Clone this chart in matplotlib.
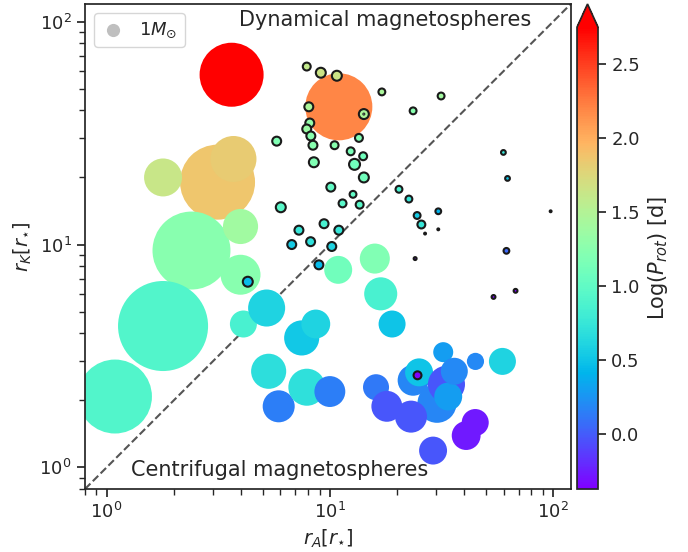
import numpy as np
import matplotlib
matplotlib.use('Agg')
import matplotlib.pyplot as plt
import seaborn as sns

sns.set_theme(style='ticks')
plt.rcParams['font.family'] = ['DejaVu Sans']

# massive stars (filled, no edge)
ra_big = [3.63, 10.97, 3.14, 3.70, 1.79, 2.40, 3.98, 3.98, 1.79, 1.09,
          4.10, 5.21, 5.32, 5.90, 7.48, 8.65, 7.89, 10.0, 16.9, 19.0,
          15.9, 10.9, 32.2, 44.9, 59.3, 23.6, 25.1, 16.1, 30.2, 33.3,
          33.9, 36.1, 18.0, 23.1, 29.0, 44.8, 40.8]
rk_big = [57.8, 41.5, 19.05, 24.2, 20.0, 9.4, 12.05, 7.32, 4.31, 2.08,
          4.40, 5.19, 2.70, 1.88, 3.81, 4.40, 2.29, 2.19, 6.01, 4.40,
          8.65, 7.7, 3.29, 2.99, 2.99, 2.46, 2.67, 2.29, 1.94, 2.36,
          2.08, 2.70, 1.88, 1.69, 1.19, 1.59, 1.39]
mass_big = [23.6, 25.9, 32.4, 12.2, 8.3, 35.0, 7.1, 9.2, 46.7, 31.5,
            4.2, 7.9, 7.1, 5.9, 7.1, 4.8, 7.9, 5.5, 6.3, 4.2,
            5.2, 4.5, 2.3, 1.7, 4.2, 5.5, 4.5, 3.9, 8.8, 7.9,
            4.5, 4.2, 5.5, 5.9, 4.5, 4.2, 4.8]
logp_big = [2.95, 2.2, 1.87, 1.83, 1.63, 1.24, 1.39, 1.25, 0.92, 0.92,
            0.85, 0.6, 0.68, 0.15, 0.52, 0.6, 0.7, 0.15, 0.85, 0.5,
            1.2, 1.1, 0.3, 0.2, 0.6, 0.18, 0.5, 0.12, 0.18, -0.02,
            0.3, 0.2, -0.02, -0.02, -0.02, -0.27, -0.27]

# low-mass sample (black edge)
ra_low = [7.88, 9.11, 10.75, 17.1, 31.5, 8.05, 14.2, 23.6, 8.13, 7.88,
          8.22, 8.4, 10.5, 13.5, 5.78, 12.4, 14.1, 12.9, 8.48, 14.2,
          10.1, 12.7, 11.4, 13.6, 6.03, 20.4, 22.6, 24.6, 25.7, 30.6,
          26.7, 30.6, 9.42, 10.97, 7.27, 6.75, 8.2, 10.2, 8.93, 59.9,
          62.5, 97.5, 61.8, 24.1, 67.9, 54.1, 4.29, 24.7, 14.2]
rk_low = [62.9, 59.0, 57.2, 48.4, 46.4, 41.5, 38.5, 39.8, 35.1, 33.0,
          30.7, 27.9, 27.9, 30.1, 29.1, 26.2, 24.9, 22.9, 23.4, 20.0,
          18.1, 16.8, 15.3, 15.1, 14.7, 17.7, 16.0, 13.5, 12.3, 14.1,
          11.2, 11.7, 12.4, 11.6, 11.6, 10.0, 10.3, 9.8, 8.11, 25.9,
          19.8, 14.1, 9.37, 8.65, 6.2, 5.82, 6.81, 2.59, 38.5]
mass_low = [0.36, 0.57, 0.57, 0.27, 0.27, 0.46, 0.57, 0.27, 0.46, 0.46,
            0.46, 0.46, 0.36, 0.36, 0.46, 0.36, 0.36, 0.69, 0.57, 0.57,
            0.46, 0.27, 0.36, 0.36, 0.57, 0.27, 0.27, 0.27, 0.36, 0.19,
            0.02, 0.02, 0.46, 0.46, 0.46, 0.46, 0.46, 0.46, 0.46, 0.13,
            0.13, 0.02, 0.19, 0.05, 0.085, 0.085, 0.57, 0.36, 0.005]
logp_low = [1.6, 1.65, 1.65, 1.45, 1.4, 1.45, 1.45, 1.25, 1.3, 1.35,
            1.25, 1.25, 1.25, 1.2, 1.2, 1.15, 1.1, 1.1, 1.2, 1.1,
            1.0, 1.0, 0.95, 0.95, 0.95, 0.85, 0.75, 0.55, 0.75, 0.4,
            -0.15, -0.15, 0.85, 0.75, 0.75, 0.55, 0.7, 0.6, 0.45, 0.75,
            0.5, -0.1, 0.05, -0.3, -0.35, -0.35, 0.45, -0.37, -0.2]

vmin, vmax = -0.37, 2.75
scale = 90  # marker area per solar mass

fig = plt.figure(figsize=(6.88, 5.52), dpi=100)
ax = fig.add_axes([0.1235, 0.1141, 0.7061, 0.8786])
cax = fig.add_axes([0.8387, 0.1141, 0.0305, 0.8786])

sc = ax.scatter(ra_big, rk_big, s=np.array(mass_big) * scale, c=logp_big,
                cmap='rainbow', vmin=vmin, vmax=vmax, linewidths=0, zorder=2)
ax.scatter(ra_low, rk_low, s=np.array(mass_low) * scale, c=logp_low,
           cmap='rainbow', vmin=vmin, vmax=vmax, edgecolors='#1a1a1a',
           linewidths=1.5, zorder=3)

ax.plot([0.8, 120], [0.8, 120], ls='--', color='#555555', lw=1.5, zorder=1)
ax.scatter([], [], c='gray', alpha=0.5, s=scale, linewidths=0,
           label=r'$1M_{\odot}$')
ax.legend(loc='upper left', scatterpoints=1, fontsize=13, handlelength=1.3)

ax.set_xscale('log')
ax.set_yscale('log')
ax.set_xlim(0.8, 120)
ax.set_ylim(0.8, 120)
ax.tick_params(labelsize=13)
ax.set_xlabel(r'$r_A[r_{\star}]$', fontsize=14)
ax.set_ylabel(r'$r_K[r_{\star}]$', fontsize=14)

ax.text(0.617, 0.967, 'Dynamical magnetospheres', transform=ax.transAxes,
        ha='center', va='center', fontsize=15, color='#262626')
ax.text(0.40, 0.040, 'Centrifugal magnetospheres', transform=ax.transAxes,
        ha='center', va='center', fontsize=15, color='#262626')

cb = fig.colorbar(sc, cax=cax, extend='max')
cb.ax.tick_params(labelsize=13)
cb.set_label(r'Log($P_{rot}$) [d]', fontsize=15)

fig.savefig('out.png', dpi=100)
